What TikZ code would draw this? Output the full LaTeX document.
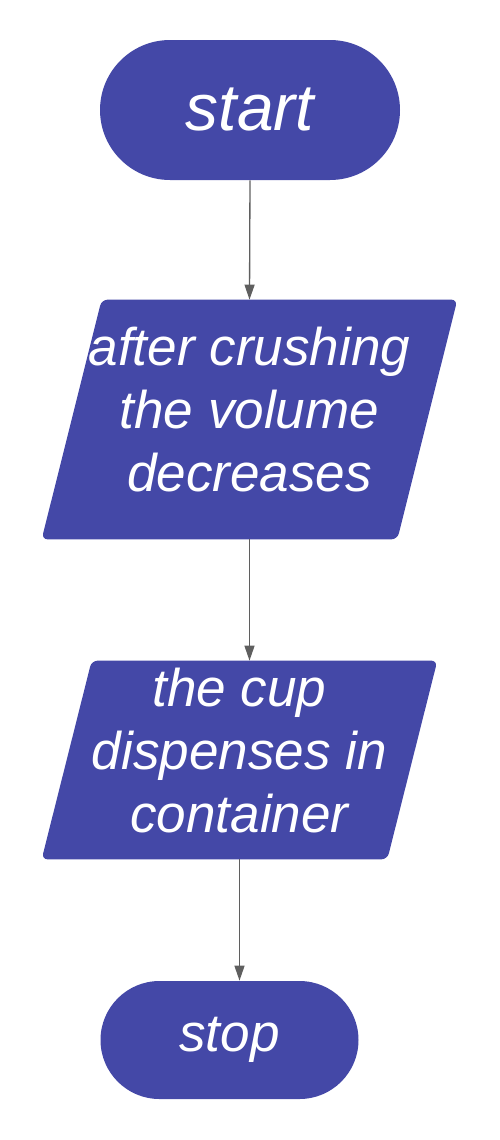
\documentclass[tikz,border=0pt]{standalone}
\usepackage{fontspec}
\setmainfont{Liberation Sans}
\usetikzlibrary{shapes.misc,arrows.meta,backgrounds}
\definecolor{indigoblue}{RGB}{68, 72, 167}
\definecolor{arrowgrey}{RGB}{95, 95, 95}

\tikzset{
    terminal/.style={rounded rectangle, fill=indigoblue, text=white, inner sep=0pt,
                     font=\itshape\fontsize{30.2}{35.8}\selectfont},
    inout/.style={rectangle, text=white, inner sep=0pt, align=center, text depth=0.4cm,
                  font=\itshape\fontsize{30.2}{35.8}\selectfont},
    slant/.style={fill=indigoblue, rounded corners=1.2mm},
    flow/.style={draw=arrowgrey, line width=0.75pt, -{Triangle[length=0.3cm,width=0.2cm]}}
}

\begin{document}
\begin{tikzpicture}
        \useasboundingbox (0.00, 0.00) rectangle (10.00,-22.80);
            \node[terminal, minimum width=6.00cm, minimum height=2.80cm,
                  font=\itshape\fontsize{37.5}{40}\selectfont]          (start)    at (5.00, -2.20) {start};
            \node[inout, minimum width=7.10cm, minimum height=4.78cm]    (crush)    at (4.99, -8.39) {after crushing\\the volume\\decreases};
            \node[inout, minimum width=6.90cm, minimum height=3.96cm]    (dispense) at (4.79,-15.20) {the cup\\dispenses in\\container};
            \node[terminal, minimum width=5.16cm, minimum height=2.36cm] (stop)     at (4.59,-20.80) {stop};
        \begin{scope}[on background layer]
            \fill[slant] ([xshift= 0.60cm]crush.north west) -- ([xshift= 0.60cm]crush.north east)
                      -- ([xshift=-0.60cm]crush.south east) -- ([xshift=-0.60cm]crush.south west) -- cycle;
            \fill[slant] ([xshift= 0.50cm]dispense.north west) -- ([xshift= 0.50cm]dispense.north east)
                      -- ([xshift=-0.50cm]dispense.south east) -- ([xshift=-0.50cm]dispense.south west) -- cycle;
        \end{scope}
            \draw[flow] (start.south)    -- (crush.north);
            \draw[flow] (crush.south)    -- (dispense.north -| crush.south);
            \draw[flow] (dispense.south) -- (stop.north -| dispense.south);
        \end{tikzpicture}
\end{document}
